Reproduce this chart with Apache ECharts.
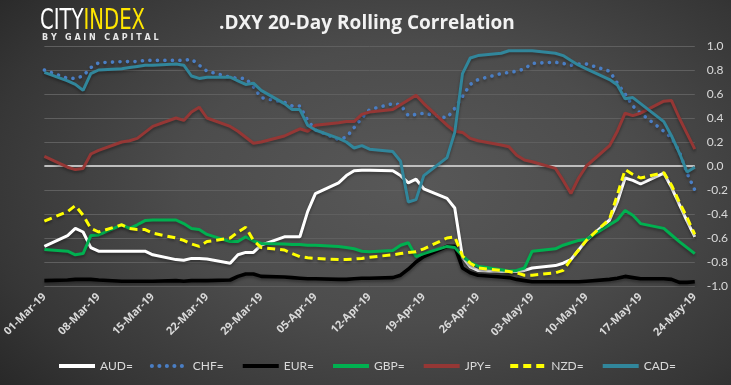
<!DOCTYPE html>
<html><head><meta charset="utf-8">
<script src="https://cdn.jsdelivr.net/npm/echarts@6/dist/echarts.min.js"></script>
<style>
html,body{margin:0;padding:0;width:731px;height:385px;overflow:hidden;}
body{background: radial-gradient(ellipse 78% 90% at 56% 48%, #585858 0%, #4c4c4c 40%, #363636 75%, #222 100%);}
#c{width:731px;height:385px;}
</style></head><body><div id="c"></div>
<script>
const dates = ['01-Mar-19',
 '04-Mar-19','05-Mar-19','06-Mar-19','07-Mar-19','08-Mar-19',
 '11-Mar-19','12-Mar-19','13-Mar-19','14-Mar-19','15-Mar-19',
 '18-Mar-19','19-Mar-19','20-Mar-19','21-Mar-19','22-Mar-19',
 '25-Mar-19','26-Mar-19','27-Mar-19','28-Mar-19','29-Mar-19',
 '01-Apr-19','02-Apr-19','03-Apr-19','04-Apr-19','05-Apr-19',
 '08-Apr-19','09-Apr-19','10-Apr-19','11-Apr-19','12-Apr-19',
 '15-Apr-19','16-Apr-19','17-Apr-19','18-Apr-19','19-Apr-19',
 '22-Apr-19','23-Apr-19','24-Apr-19','25-Apr-19','26-Apr-19',
 '29-Apr-19','30-Apr-19','01-May-19','02-May-19','03-May-19',
 '06-May-19','07-May-19','08-May-19','09-May-19','10-May-19',
 '13-May-19','14-May-19','15-May-19','16-May-19','17-May-19',
 '20-May-19','21-May-19','22-May-19','23-May-19','24-May-19'];

const AUD = [-0.67, -0.58,-0.52,-0.55,-0.68,-0.71, -0.71,-0.71,-0.71,-0.71,-0.74, -0.78,-0.785,-0.77,-0.77,-0.775, -0.81,-0.74,-0.72,-0.72,-0.66, -0.59,-0.59,-0.59,-0.38,-0.23, -0.14,-0.08,-0.04,-0.035,-0.035, -0.04,-0.08,-0.14,-0.11,-0.19, -0.27,-0.35,-0.76,-0.84,-0.87, -0.88,-0.88,-0.88,-0.87,-0.85, -0.83,-0.81,-0.78,-0.70,-0.62, -0.45,-0.30,-0.10,-0.12,-0.15, -0.06,-0.18,-0.32,-0.46,-0.59];
const CHF = [0.80, 0.73,0.73,0.75,0.82,0.86, 0.87,0.87,0.87,0.88,0.88, 0.88,0.88,0.89,0.84,0.79, 0.74,0.73,0.73,0.66,0.57, 0.53,0.50,0.50,0.38,0.30, 0.22,0.24,0.32,0.40,0.47, 0.52,0.51,0.42,0.43,0.44, 0.40,0.48,0.58,0.68,0.72, 0.77,0.78,0.79,0.81,0.855, 0.865,0.855,0.84,0.85,0.85, 0.79,0.69,0.60,0.50,0.44, 0.29,0.235,0.12,-0.06,-0.20];
const EUR = [-0.955, -0.95,-0.945,-0.945,-0.945,-0.95, -0.96,-0.96,-0.96,-0.96,-0.96, -0.955,-0.96,-0.955,-0.955,-0.955, -0.95,-0.92,-0.90,-0.90,-0.92, -0.925,-0.93,-0.935,-0.94,-0.94, -0.945,-0.945,-0.94,-0.935,-0.935, -0.93,-0.91,-0.86,-0.80,-0.755, -0.67,-0.67,-0.85,-0.89,-0.91, -0.925,-0.93,-0.945,-0.955,-0.965, -0.965,-0.965,-0.965,-0.965,-0.96, -0.945,-0.935,-0.92,-0.93,-0.94, -0.94,-0.945,-0.97,-0.97,-0.965];
const GBP = [-0.695, -0.71,-0.74,-0.73,-0.58,-0.575, -0.49,-0.52,-0.49,-0.455,-0.45, -0.45,-0.48,-0.52,-0.53,-0.57, -0.63,-0.63,-0.59,-0.625,-0.645, -0.65,-0.655,-0.655,-0.66,-0.66, -0.67,-0.68,-0.69,-0.71,-0.715, -0.705,-0.66,-0.64,-0.755,-0.73, -0.67,-0.68,-0.75,-0.805,-0.835, -0.865,-0.875,-0.87,-0.85,-0.71, -0.69,-0.66,-0.64,-0.62,-0.61, -0.49,-0.45,-0.37,-0.41,-0.48, -0.52,-0.575,-0.63,-0.68,-0.73];
const JPY = [0.08, -0.01,-0.03,-0.02,0.10,0.13, 0.20,0.21,0.23,0.28,0.33, 0.40,0.38,0.45,0.49,0.40, 0.33,0.29,0.24,0.19,0.20, 0.25,0.28,0.31,0.29,0.34, 0.36,0.37,0.37,0.43,0.45, 0.47,0.51,0.55,0.59,0.52, 0.34,0.29,0.28,0.23,0.21, 0.175,0.16,0.09,0.05,0.035, -0.02,-0.12,-0.23,-0.10,0.0, 0.17,0.29,0.44,0.42,0.44, 0.54,0.545,0.40,0.27,0.14];
const NZD = [-0.46, -0.38,-0.33,-0.41,-0.52,-0.55, -0.49,-0.52,-0.53,-0.53,-0.56, -0.60,-0.62,-0.65,-0.67,-0.63, -0.60,-0.55,-0.51,-0.62,-0.68, -0.70,-0.73,-0.755,-0.765,-0.77, -0.78,-0.78,-0.775,-0.77,-0.76, -0.74,-0.73,-0.72,-0.715,-0.69, -0.60,-0.59,-0.75,-0.81,-0.85, -0.87,-0.88,-0.89,-0.91,-0.91, -0.89,-0.87,-0.78,-0.70,-0.62, -0.44,-0.24,-0.03,-0.07,-0.10, -0.055,-0.16,-0.30,-0.43,-0.57];
const CAD = [0.78, 0.71,0.68,0.63,0.77,0.80, 0.81,0.82,0.83,0.84,0.84, 0.85,0.84,0.75,0.73,0.74, 0.74,0.71,0.68,0.69,0.63, 0.52,0.47,0.47,0.34,0.30, 0.23,0.20,0.15,0.17,0.14, 0.12,0.04,-0.30,-0.28,-0.08, 0.07,0.28,0.77,0.90,0.92, 0.94,0.96,0.96,0.96,0.96, 0.94,0.92,0.88,0.84,0.81, 0.72,0.675,0.56,0.57,0.52, 0.37,0.25,0.11,-0.05,-0.01];

const seriesNames = ['AUD=','CHF=','EUR=','GBP=','JPY=','NZD=','CAD='];
const seriesValues = [AUD, CHF, EUR, GBP, JPY, NZD, CAD];
const titleText = '.DXY 20-Day Rolling Correlation';

// calendar axis from first to last date
const MONTHS = ['Jan','Feb','Mar','Apr','May','Jun','Jul','Aug','Sep','Oct','Nov','Dec'];
function parseD(s){const p=s.split('-');return Date.UTC(2000+ +p[2], MONTHS.indexOf(p[1]), +p[0]);}
function fmtD(t){const d=new Date(t);const dd=String(d.getUTCDate()).padStart(2,'0');return dd+'-'+MONTHS[d.getUTCMonth()]+'-'+String(d.getUTCFullYear()).slice(2);}
const calendar=[];
for(let t=parseD(dates[0]); t<=parseD(dates[dates.length-1]); t+=86400000) calendar.push(fmtD(t));

const styles = [
  {color:'#ffffff', width:3, type:'solid'},
  {color:'#4a7ec4', width:3.6, type:[0.1,7.4], cap:'round'},
  {color:'#000000', width:3.6, type:'solid'},
  {color:'#00b050', width:3, type:'solid'},
  {color:'#953735', width:3, type:'solid'},
  {color:'#ffff00', width:3, type:[8,5]},
  {color:'#31869b', width:3, type:'solid'}
];

const series = seriesNames.map((n,i)=>({
  name:n, type:'line', showSymbol:false, symbol:'none', silent:true,
  data: dates.map((d,j)=>[d, seriesValues[i][j]]),
  itemStyle:{color:styles[i].color},
  lineStyle:{color:styles[i].color, width:styles[i].width, type:styles[i].type, cap:styles[i].cap||'butt',
    shadowColor:'rgba(0,0,0,0.35)', shadowBlur:3, shadowOffsetY:2},
  z: 2+i,
  markLine: i===0 ? {silent:true, symbol:'none', label:{show:false},
    lineStyle:{color:'#bfbfbf', width:2, type:'solid', shadowBlur:0}, data:[{yAxis:0}]} : undefined
}));

const chart = echarts.init(document.getElementById('c'), null, {renderer:'canvas'});
chart.setOption({
  animation:false,
  backgroundColor:'transparent',
  grid:{left:43, right:36, top:46, bottom:99},
  title:{text:titleText, left:214, top:9,
    textStyle:{color:'#f2f2f2', fontSize:19, fontWeight:'bold', fontFamily:'Open Sans'}},
  graphic:[
    {type:'text', left:40, top:8, scaleX:0.78,
      style:{text:'{a|CITY}{b|INDEX}', rich:{
        a:{fill:'#ffffff', fontSize:28, fontFamily:'DejaVu Sans Condensed', fontWeight:'normal'},
        b:{fill:'#ffe600', fontSize:28, fontFamily:'DejaVu Sans Condensed', fontWeight:'normal'}}}},
    {type:'text', left:42, top:34,
      style:{text:'B Y   G A I N   C A P I T A L', fill:'#e8e8e8', fontSize:8, fontWeight:'bold', fontFamily:'DejaVu Sans'}}
  ],
  legend:{bottom:8, left:52, itemWidth:36, itemHeight:12, itemGap:17,
    data:seriesNames,
    itemStyle:{opacity:0},
    lineStyle:{width:4},
    textStyle:{color:'#d9d9d9', fontSize:12, fontFamily:'Lato', width:40}},
  xAxis:{type:'category', data:calendar, boundaryGap:false,
    axisLine:{show:false}, axisTick:{show:false}, splitLine:{show:false},
    axisLabel:{interval:6, rotate:45, color:'#d9d9d9', fontSize:11, fontWeight:'bold', fontFamily:'Open Sans', margin:9}},
  yAxis:{type:'value', position:'right', min:-1, max:1, interval:0.2,
    axisLine:{show:false}, axisTick:{show:false},
    splitLine:{lineStyle:{color:'#5f5f5f', width:1}},
    axisLabel:{color:'#d9d9d9', fontSize:12, fontFamily:'Lato', margin:12, formatter:v=>v.toFixed(1)}},
  series: series
});
</script></body></html>
